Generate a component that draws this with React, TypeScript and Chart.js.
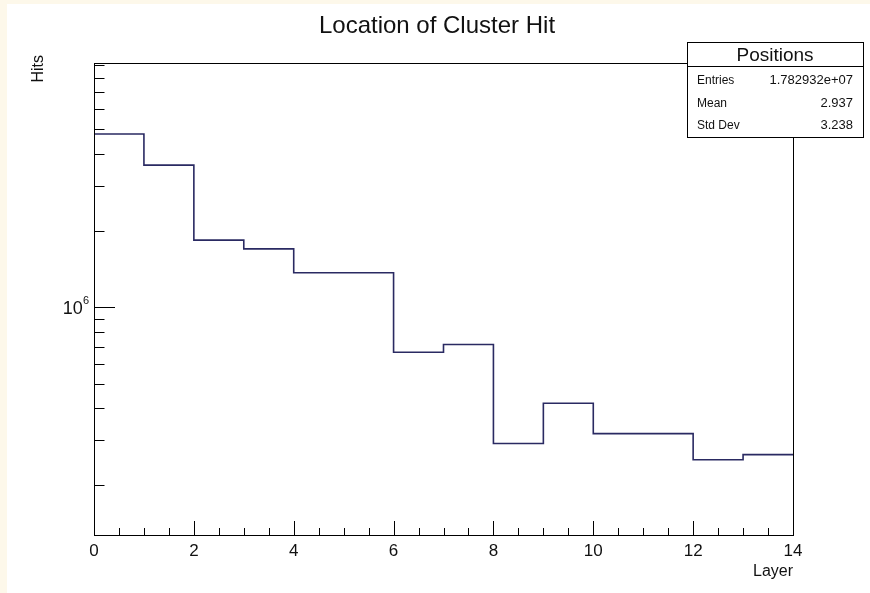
import { useEffect, useRef } from "react";
import { Chart, registerables } from "chart.js";

Chart.register(...registerables);

// Histogram content: hits per layer bin (log-scale y axis)
const TITLE = "Location of Cluster Hit";
const X_TITLE = "Layer";
const Y_TITLE = "Hits";
const BIN_EDGES = [0, 1, 2, 3, 4, 5, 6, 7, 8, 9, 10, 11, 12, 13, 14];
const HITS = [
  4.8e6, 3.62e6, 1.836e6, 1.696e6, 1.365e6, 1.365e6, 6.65e5, 7.13e5, 2.91e5,
  4.19e5, 3.18e5, 3.18e5, 2.51e5, 2.63e5,
];
const X_MIN = 0;
const X_MAX = 14;
const Y_MIN = 1.27e5;
const Y_MAX = 9.13e6;
const X_TICK_LABELS = ["0", "2", "4", "6", "8", "10", "12", "14"];
const Y_TICK_VALUES = [1e6];
const Y_TICK_BASES = ["10"];
const Y_TICK_EXPONENTS = ["6"];
const STATS_TITLE = "Positions";
const STATS_NAMES = ["Entries", "Mean", "Std Dev"];
const STATS_VALUES = ["1.782932e+07", "2.937", "3.238"];

const FONT = "'Liberation Sans', Arial, Helvetica, sans-serif";
const LINE_COLOR = "#2a2a62";

const rootStyle = {
  id: "rootStyle",
  beforeDraw(chart: any) {
    const { ctx, width, height } = chart;
    ctx.save();
    ctx.fillStyle = "#fdf8ea";
    ctx.fillRect(0, 0, width, height);
    ctx.fillStyle = "#ffffff";
    ctx.fillRect(7, 4, width - 7, height - 4);
    ctx.restore();
  },
  afterDraw(chart: any) {
    const { ctx, chartArea } = chart;
    const xs = chart.scales.x;
    const ys = chart.scales.y;
    const { left, right, top, bottom } = chartArea;
    ctx.save();

    // frame
    ctx.strokeStyle = "#000";
    ctx.lineWidth = 1;
    ctx.strokeRect(Math.round(left) + 0.5, Math.round(top) + 0.5, Math.round(right - left), Math.round(bottom - top));

    // x ticks (major every 2, minor every 0.5)
    const majors = X_TICK_LABELS.map(Number);
    ctx.beginPath();
    for (let v = X_MIN; v <= X_MAX + 1e-9; v += 0.5) {
      const px = Math.round(xs.getPixelForValue(v)) + 0.5;
      const len = majors.includes(v) ? 14 : 7;
      ctx.moveTo(px, bottom);
      ctx.lineTo(px, bottom - len);
    }
    // y ticks (log decades)
    for (let e = 4; e <= 7; e++) {
      for (let m = 1; m <= 9; m++) {
        const v = m * Math.pow(10, e);
        if (v <= Y_MIN || v >= Y_MAX) continue;
        const py = Math.round(ys.getPixelForValue(v)) + 0.5;
        const len = m === 1 ? 21 : 10.5;
        ctx.moveTo(left, py);
        ctx.lineTo(left + len, py);
      }
    }
    ctx.stroke();

    ctx.fillStyle = "#111";
    // x tick labels
    ctx.font = `17px ${FONT}`;
    ctx.textAlign = "center";
    ctx.textBaseline = "alphabetic";
    X_TICK_LABELS.forEach((lab) => {
      ctx.fillText(lab, xs.getPixelForValue(Number(lab)), bottom + 21);
    });

    // y tick labels with exponent
    Y_TICK_VALUES.forEach((v, i) => {
      const py = ys.getPixelForValue(v);
      ctx.font = `11px ${FONT}`;
      const expW = ctx.measureText(Y_TICK_EXPONENTS[i]).width;
      ctx.textAlign = "right";
      ctx.fillText(Y_TICK_EXPONENTS[i], left - 5, py - 3);
      ctx.font = `18px ${FONT}`;
      ctx.fillText(Y_TICK_BASES[i], left - 5 - expW, py + 7);
    });

    // axis titles
    ctx.font = `16px ${FONT}`;
    ctx.textAlign = "right";
    ctx.fillText(X_TITLE, right, bottom + 41);
    ctx.save();
    ctx.translate(43, top - 8);
    ctx.rotate(-Math.PI / 2);
    ctx.textAlign = "right";
    ctx.fillText(Y_TITLE, 0, 0);
    ctx.restore();

    // title
    ctx.font = `24px ${FONT}`;
    ctx.textAlign = "center";
    ctx.fillText(TITLE, 437, 33);

    // stats box
    const bx = 687, by = 42, bw = 176, bh = 95, hh = 24;
    ctx.fillStyle = "#fff";
    ctx.fillRect(bx, by, bw, bh);
    ctx.strokeStyle = "#000";
    ctx.strokeRect(bx + 0.5, by + 0.5, bw, bh);
    ctx.beginPath();
    ctx.moveTo(bx, by + hh + 0.5);
    ctx.lineTo(bx + bw, by + hh + 0.5);
    ctx.stroke();
    ctx.fillStyle = "#111";
    ctx.font = `19px ${FONT}`;
    ctx.textAlign = "center";
    ctx.fillText(STATS_TITLE, bx + bw / 2, by + 19);
    STATS_NAMES.forEach((name, i) => {
      const y = by + 42 + i * 22.5;
      ctx.font = `12px ${FONT}`;
      ctx.textAlign = "left";
      ctx.fillText(name, bx + 10, y);
      ctx.font = `13px ${FONT}`;
      ctx.textAlign = "right";
      ctx.fillText(STATS_VALUES[i], bx + bw - 10, y);
    });

    ctx.restore();
  },
};

export default function App() {
  const canvasRef = useRef<HTMLCanvasElement | null>(null);

  useEffect(() => {
    const canvas = canvasRef.current;
    if (!canvas) return;
    // step outline: one point per lower bin edge, plus the upper edge of the last bin
    const points = HITS.map((v, i) => ({ x: BIN_EDGES[i], y: v }));
    points.push({ x: BIN_EDGES[BIN_EDGES.length - 1], y: HITS[HITS.length - 1] });

    const chart = new Chart(canvas, {
      type: "line",
      data: {
        datasets: [
          {
            data: points,
            stepped: "before",
            borderColor: LINE_COLOR,
            borderWidth: 1.6,
            pointRadius: 0,
            fill: false,
          },
        ],
      },
      options: {
        responsive: false,
        animation: false,
        events: [],
        layout: { padding: { left: 94, right: 77, top: 63, bottom: 58 } },
        scales: {
          x: { type: "linear", min: X_MIN, max: X_MAX, display: false },
          y: { type: "logarithmic", min: Y_MIN, max: Y_MAX, display: false },
        },
        plugins: { legend: { display: false }, tooltip: { enabled: false }, title: { display: false } },
      },
      plugins: [rootStyle],
    });
    return () => chart.destroy();
  }, []);

  return (
    <div style={{ position: "absolute", left: 0, top: 0, width: 870, height: 593 }}>
      <canvas ref={canvasRef} width={870} height={593} style={{ width: 870, height: 593, display: "block" }} />
    </div>
  );
}
